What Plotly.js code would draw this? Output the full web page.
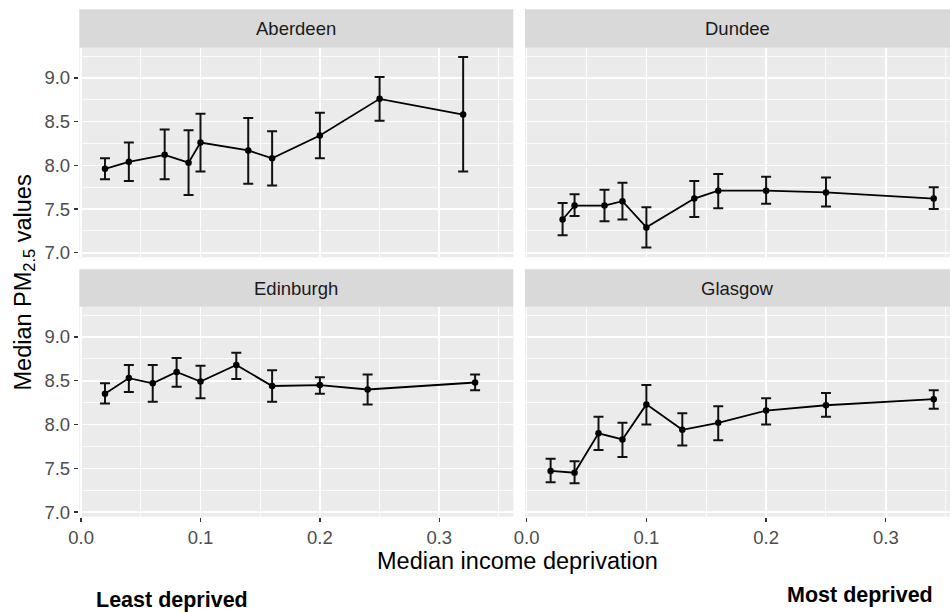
<!DOCTYPE html>
<html>
<head>
<meta charset="utf-8">
<script src="https://cdn.plot.ly/plotly-3.0.1.min.js"></script>
<style>html,body{margin:0;padding:0;background:#fff;}#chart{width:950px;height:613px;}</style>
</head>
<body>
<div id="chart"></div>
<script>
// ---- data ----
const cities = ["Aberdeen", "Dundee", "Edinburgh", "Glasgow"];

const aberdeenX  = [0.02, 0.04, 0.07, 0.09, 0.10, 0.14, 0.16, 0.20, 0.25, 0.32];
const aberdeenY  = [7.96, 8.04, 8.12, 8.03, 8.26, 8.17, 8.08, 8.34, 8.76, 8.58];
const aberdeenHi = [8.08, 8.26, 8.41, 8.40, 8.59, 8.54, 8.39, 8.60, 9.01, 9.24];
const aberdeenLo = [7.84, 7.82, 7.84, 7.66, 7.93, 7.79, 7.77, 8.08, 8.51, 7.93];

const dundeeX  = [0.03, 0.04, 0.065, 0.08, 0.10, 0.14, 0.16, 0.20, 0.25, 0.34];
const dundeeY  = [7.38, 7.54, 7.54, 7.59, 7.29, 7.62, 7.71, 7.71, 7.69, 7.62];
const dundeeHi = [7.57, 7.67, 7.72, 7.80, 7.52, 7.82, 7.90, 7.87, 7.86, 7.75];
const dundeeLo = [7.20, 7.42, 7.36, 7.38, 7.06, 7.41, 7.51, 7.56, 7.53, 7.50];

const edinburghX  = [0.02, 0.04, 0.06, 0.08, 0.10, 0.13, 0.16, 0.20, 0.24, 0.33];
const edinburghY  = [8.35, 8.53, 8.47, 8.60, 8.49, 8.68, 8.44, 8.45, 8.40, 8.48];
const edinburghHi = [8.47, 8.68, 8.68, 8.76, 8.67, 8.82, 8.62, 8.54, 8.57, 8.57];
const edinburghLo = [8.24, 8.37, 8.26, 8.43, 8.30, 8.52, 8.26, 8.35, 8.23, 8.39];

const glasgowX  = [0.02, 0.04, 0.06, 0.08, 0.10, 0.13, 0.16, 0.20, 0.25, 0.34];
const glasgowY  = [7.47, 7.45, 7.90, 7.83, 8.23, 7.94, 8.02, 8.16, 8.22, 8.29];
const glasgowHi = [7.61, 7.58, 8.09, 8.02, 8.45, 8.13, 8.21, 8.30, 8.36, 8.39];
const glasgowLo = [7.34, 7.33, 7.71, 7.63, 8.00, 7.76, 7.82, 8.00, 8.09, 8.18];

const xTickVals = [0, 0.1, 0.2, 0.3];
const xTickText = ["0.0", "0.1", "0.2", "0.3"];
const yTickVals = [7.0, 7.5, 8.0, 8.5, 9.0];
const yTickText = ["7.0", "7.5", "8.0", "8.5", "9.0"];

const xTitle = "Median income deprivation";
const yTitle = "Median PM<sub>2.5</sub> values";
const leftNote = "Least deprived";
const rightNote = "Most deprived";

// ---- build ----
function series(x, y, hi, lo, xa, ya) {
  return {
    type: "scatter", mode: "lines+markers",
    x: x, y: y, xaxis: xa, yaxis: ya,
    line: {color: "#000000", width: 1.8},
    marker: {color: "#000000", size: 6.5},
    error_y: {
      type: "data", symmetric: false,
      array: hi.map((v, i) => v - y[i]),
      arrayminus: lo.map((v, i) => y[i] - v),
      color: "#111111", thickness: 2, width: 5
    },
    hoverinfo: "x+y", showlegend: false
  };
}

const traces = [
  series(aberdeenX, aberdeenY, aberdeenHi, aberdeenLo, "x3", "y3"),
  series(dundeeX, dundeeY, dundeeHi, dundeeLo, "x4", "y4"),
  series(edinburghX, edinburghY, edinburghHi, edinburghLo, "x", "y"),
  series(glasgowX, glasgowY, glasgowHi, glasgowLo, "x2", "y2")
];

const W = 950, H = 613;
const px = v => v / W;
const py = v => 1 - v / H;

const leftDom = [px(79.3), px(513.3)];
const rightDom = [px(525), 1];
const topDom = [py(257.3), py(47.7)];
const botDom = [py(516.7), py(306.7)];
const yRange = [6.948, 9.345];
const xRangeL = [-0.0015, 0.362];
const xRangeR = [-0.0014, 0.3536];

const tickFont = {family: "Liberation Sans, Arial, sans-serif", size: 18.5, color: "#4D4D4D"};
const minorGrid = {showgrid: true, gridcolor: "#FFFFFF", gridwidth: 0.8};

function xa(dom, range, anchor, showTicks) {
  return {
    domain: dom, range: range, anchor: anchor, fixedrange: true,
    tickvals: xTickVals, ticktext: xTickText,
    showticklabels: showTicks, ticks: showTicks ? "outside" : "",
    ticklen: 4.5, tickwidth: 1.3, tickcolor: "#333333",
    tickfont: tickFont,
    showgrid: true, gridcolor: "#FFFFFF", gridwidth: 1.6,
    minor: Object.assign({dtick: 0.1, tick0: 0.05}, minorGrid),
    zeroline: false, showline: false
  };
}
function ya(dom, anchor, showTicks) {
  return {
    domain: dom, range: yRange, anchor: anchor, fixedrange: true,
    tickvals: yTickVals, ticktext: yTickText,
    showticklabels: showTicks, ticks: showTicks ? "outside" : "",
    ticklen: 4.5, tickwidth: 1.3, tickcolor: "#333333",
    tickfont: tickFont,
    showgrid: true, gridcolor: "#FFFFFF", gridwidth: 1.6,
    minor: Object.assign({dtick: 0.5, tick0: 7.25}, minorGrid),
    zeroline: false, showline: false
  };
}

const stripFont = {family: "Liberation Sans, Arial, sans-serif", size: 18.5, color: "#1A1A1A"};
const panels = [
  {name: cities[0], dom: leftDom, sy: [py(47.7), py(9.3)]},
  {name: cities[1], dom: rightDom, sy: [py(47.7), py(9.3)]},
  {name: cities[2], dom: leftDom, sy: [py(306.7), py(269.3)]},
  {name: cities[3], dom: rightDom, sy: [py(306.7), py(269.3)]}
];

const shapes = panels.map(p => ({
  type: "rect", xref: "paper", yref: "paper",
  x0: p.dom[0], x1: p.dom[1], y0: p.sy[0], y1: p.sy[1],
  fillcolor: "#D9D9D9", line: {width: 0}, layer: "below"
}));

const annotations = panels.map(p => ({
  xref: "paper", yref: "paper", x: (p.dom[0] + p.dom[1]) / 2, y: (p.sy[0] + p.sy[1]) / 2,
  xanchor: "center", yanchor: "middle", text: p.name, showarrow: false, font: stripFont
}));

annotations.push({
  xref: "paper", yref: "paper", x: px(517), y: py(561), xanchor: "center", yanchor: "middle",
  text: xTitle, showarrow: false,
  font: {family: "Liberation Sans, Arial, sans-serif", size: 23.5, color: "#000000"}
});
annotations.push({
  xref: "paper", yref: "paper", x: px(24), y: py(282.5), xanchor: "center", yanchor: "middle",
  text: yTitle, textangle: -90, showarrow: false,
  font: {family: "Liberation Sans, Arial, sans-serif", size: 23.5, color: "#000000"}
});
annotations.push({
  xref: "paper", yref: "paper", x: px(172), y: 0, xanchor: "center", yanchor: "bottom",
  borderpad: 0, text: "<b>" + leftNote + "</b>", showarrow: false,
  font: {family: "Liberation Sans, Arial, sans-serif", size: 21.5, color: "#000000"}
});
annotations.push({
  xref: "paper", yref: "paper", x: px(860), y: py(608), xanchor: "center", yanchor: "bottom",
  borderpad: 0, text: "<b>" + rightNote + "</b>", showarrow: false,
  font: {family: "Liberation Sans, Arial, sans-serif", size: 21.5, color: "#000000"}
});

const layout = {
  width: W, height: H,
  margin: {l: 0, r: 0, t: 0, b: 0, pad: 0},
  paper_bgcolor: "#FFFFFF", plot_bgcolor: "#EBEBEB",
  showlegend: false,
  xaxis: xa(leftDom, xRangeL, "y", true),
  yaxis: ya(botDom, "x", true),
  xaxis2: xa(rightDom, xRangeR, "y2", true),
  yaxis2: ya(botDom, "x2", false),
  xaxis3: xa(leftDom, xRangeL, "y3", false),
  yaxis3: ya(topDom, "x3", true),
  xaxis4: xa(rightDom, xRangeR, "y4", false),
  yaxis4: ya(topDom, "x4", false),
  shapes: shapes,
  annotations: annotations
};

Plotly.newPlot("chart", traces, layout, {displayModeBar: false, staticPlot: true});
</script>
</body>
</html>
